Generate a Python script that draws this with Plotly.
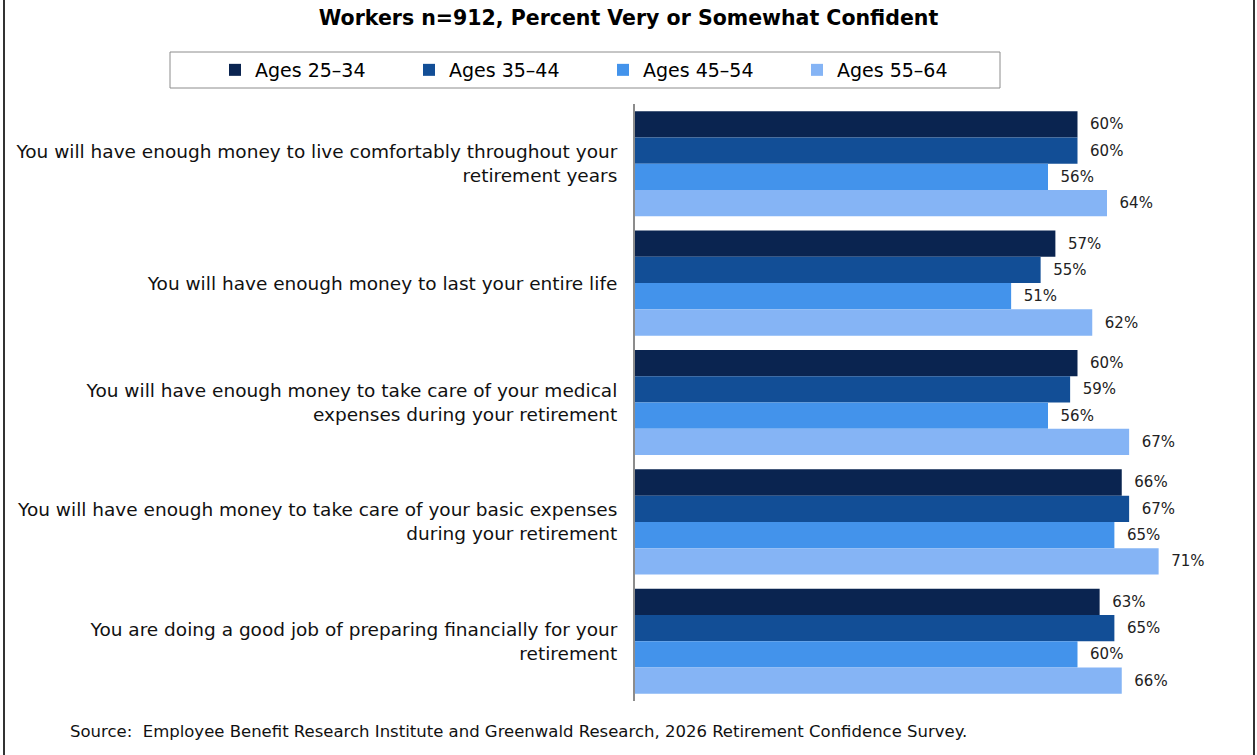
import plotly.graph_objects as go

categories = [
    "You will have enough money to live comfortably throughout your<br>retirement years",
    "You will have enough money to last your entire life",
    "You will have enough money to take care of your medical<br>expenses during your retirement",
    "You will have enough money to take care of your basic expenses<br>during your retirement",
    "You are doing a good job of preparing financially for your<br>retirement",
]
series_names = ["Ages 25\u201334", "Ages 35\u201344", "Ages 45\u201354", "Ages 55\u201364"]
ages_25_34 = [60, 57, 60, 66, 63]
ages_35_44 = [60, 55, 59, 67, 65]
ages_45_54 = [56, 51, 56, 65, 60]
ages_55_64 = [64, 62, 67, 71, 66]
series_values = [ages_25_34, ages_35_44, ages_45_54, ages_55_64]
colors = ["#0A2450", "#124E96", "#4393EB", "#85B4F5"]

W, H = 1257, 755
L, R, T, B = 635, 32, 104, 54
PW, PH = W - L - R, H - T - B

def px_x(px):
    return (px - L) / PW

def px_y(py):
    return 1 - (py - T) / PH

label_font = "DejaVu Sans, sans-serif"

fig = go.Figure()
for name, vals, col in zip(series_names, series_values, colors):
    fig.add_trace(go.Bar(
        y=categories, x=vals, name=name, orientation="h",
        marker=dict(color=col, line=dict(width=0)),
        text=[f"\u00a0\u00a0{v}%" for v in vals], textposition="outside",
        textfont=dict(family=label_font, size=15, color="#222"),
        cliponaxis=False,
    ))

fig.update_layout(
    width=W, height=H,
    margin=dict(l=L, r=R, t=T, b=B),
    paper_bgcolor="white", plot_bgcolor="white",
    barmode="group", bargap=0.12, bargroupgap=0.0,
    title=dict(text="<b>Workers n=912, Percent Very or Somewhat Confident</b>",
               x=0.5, xref="container", y=1 - 18 / H, yref="container",
               xanchor="center", yanchor="middle",
               font=dict(family="DejaVu Sans, sans-serif", size=20.5, color="#000")),
    legend=dict(orientation="h", x=px_x(215), y=px_y(70), xanchor="left", yanchor="middle",
                borderwidth=0, bgcolor="rgba(0,0,0,0)",
                entrywidth=149, entrywidthmode="pixels", itemsizing="constant",
                font=dict(family="DejaVu Sans, sans-serif", size=19, color="#000"),
                traceorder="normal"),
    xaxis=dict(range=[0, 80], showticklabels=False, showgrid=False, zeroline=False,
               showline=False),
    yaxis=dict(autorange="reversed", showline=True, linecolor="#8C8C8C", linewidth=2,
               ticks="", ticklabelstandoff=12,
               tickfont=dict(family=label_font, size=18.5, color="#111")),
    showlegend=True,
)

# legend frame
fig.add_shape(type="rect", xref="paper", yref="paper",
              x0=px_x(170), x1=px_x(1000), y0=px_y(88), y1=px_y(52),
              line=dict(color="#8C8C8C", width=1), layer="below")

# outer frame side lines
for px in (4, 1254):
    fig.add_shape(type="line", xref="paper", yref="paper",
                  x0=px_x(px), x1=px_x(px), y0=px_y(-5), y1=px_y(H + 5),
                  line=dict(color="#333", width=2))

fig.add_annotation(
    text="Source:  Employee Benefit Research Institute and Greenwald Research, 2026 Retirement Confidence Survey.",
    xref="paper", yref="paper", x=px_x(68), y=px_y(731), xanchor="left", yanchor="middle",
    showarrow=False, font=dict(family=label_font, size=16.5, color="#111"))

fig.write_html("out.html")
